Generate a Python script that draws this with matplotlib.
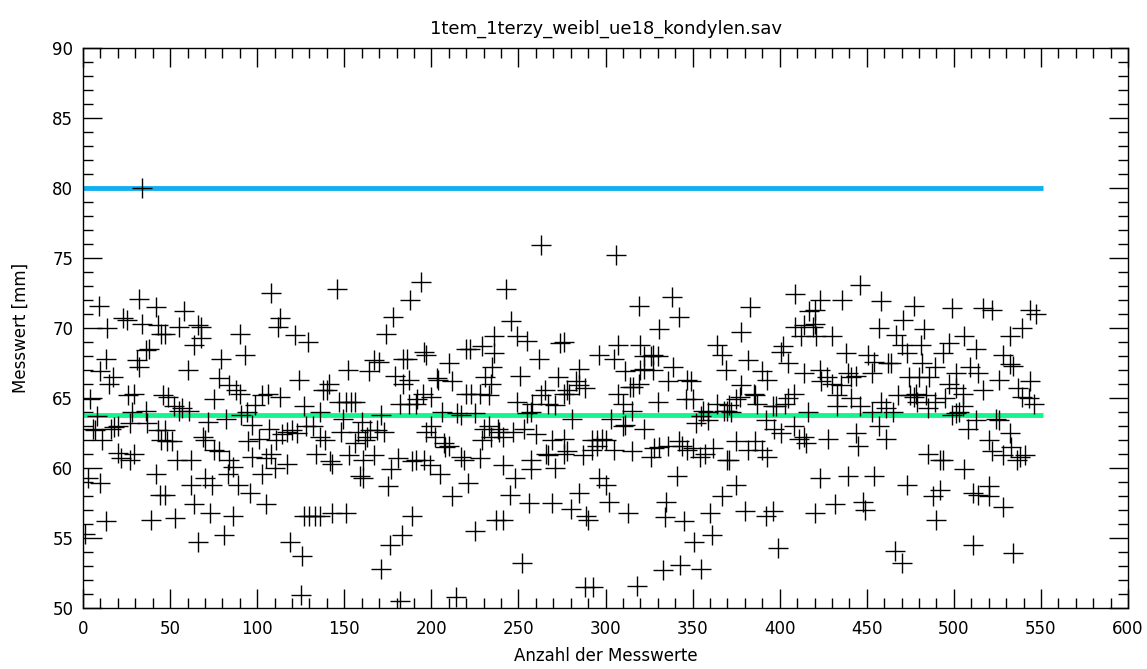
import matplotlib
matplotlib.use("Agg")
import matplotlib.pyplot as plt
from matplotlib.ticker import MultipleLocator

titel = "1tem_1terzy_weibl_ue18_kondylen.sav"
x_label = "Anzahl der Messwerte"
y_label = "Messwert [mm]"

grenzwert = 80.0
mittelwert = 63.8
anzahl_messwerte = 552

# (index, value) pairs
punkte = [
    (1, 55.3), (9, 71.6), (32, 72.1), (42, 71.5), (23, 70.7), (25, 70.6), (14, 70.0), (34, 70.3), (43, 70.2),
    (45, 69.6), (38, 68.5), (36, 68.4), (13, 67.8), (31, 67.7), (32, 67.2), (10, 66.9), (17, 66.5), (15, 66.0),
    (29, 65.3), (26, 65.2), (4, 64.9), (46, 65.2), (28, 64.0), (36, 64.1), (8, 63.7), (6, 62.8), (7, 62.7),
    (16, 62.8), (18, 62.9), (20, 63.0), (27, 63.2), (37, 63.2), (43, 62.7), (11, 62.0), (45, 62.0), (20, 61.1),
    (22, 60.7), (27, 60.6), (29, 61.0), (42, 59.6), (3, 59.3), (10, 58.9), (44, 58.1), (13, 56.2), (39, 56.3),
    (58, 71.2), (47, 69.6), (55, 70.1), (66, 70.2), (68, 70.1), (68, 69.3), (64, 68.8), (90, 69.6), (79, 67.8),
    (60, 67.0), (78, 66.4), (84, 65.9), (88, 65.6), (90, 65.3), (75, 64.9), (49, 65.1), (52, 64.4), (57, 64.3),
    (55, 64.1), (61, 64.1), (72, 63.3), (82, 63.5), (91, 63.8), (47, 62.7), (48, 61.9), (51, 61.9), (69, 62.2),
    (70, 62.0), (75, 61.3), (78, 61.2), (84, 60.6), (86, 60.1), (54, 60.6), (62, 60.6), (70, 59.3), (62, 58.8),
    (74, 58.8), (83, 59.6), (89, 58.8), (47, 58.1), (64, 57.4), (73, 56.8), (86, 56.6), (53, 56.4), (66, 54.7),
    (81, 55.2),
    (108, 72.5), (113, 70.7), (112, 70.1), (122, 69.5), (129, 69.0), (93, 68.1), (124, 66.3), (138, 65.6),
    (103, 65.2), (106, 65.3), (113, 65.1), (99, 64.5), (127, 64.4), (136, 64.0), (94, 64.0), (97, 63.1),
    (107, 62.8), (117, 62.6), (120, 62.7), (123, 62.5), (128, 63.0), (132, 63.0), (136, 62.2), (95, 61.9),
    (101, 62.1), (111, 62.0), (114, 62.4), (97, 60.8), (105, 60.7), (108, 61.0), (134, 61.0), (103, 59.6),
    (110, 60.0), (117, 60.3), (96, 58.2), (105, 57.4), (127, 56.6), (130, 56.6), (133, 56.6), (136, 56.6),
    (119, 54.7), (126, 53.7), (125, 50.9),
    (146, 72.8), (178, 70.8), (174, 69.6), (152, 67.0), (164, 66.9), (167, 67.7), (170, 67.6), (141, 66.0),
    (140, 65.6), (147, 64.7), (151, 64.7), (154, 64.7), (156, 64.7), (179, 66.6), (184, 67.8), (184, 66.0),
    (182, 64.6), (149, 63.5), (160, 63.3), (171, 63.8), (148, 62.6), (158, 62.6), (165, 62.7), (169, 62.7),
    (173, 62.6), (139, 62.0), (156, 61.8), (162, 62.0), (163, 62.2), (143, 60.3), (142, 60.5), (153, 60.9),
    (161, 60.6), (167, 60.9), (181, 60.7), (177, 59.9), (159, 59.4), (161, 59.3), (175, 58.7), (143, 56.8),
    (151, 56.8), (183, 55.2), (176, 54.5), (171, 52.8), (182, 50.5),
    (194, 73.3), (188, 72.0), (196, 68.3), (197, 68.1), (186, 67.8), (210, 67.5), (220, 68.5), (222, 68.5),
    (229, 68.7), (187, 66.3), (203, 66.4), (204, 66.3), (212, 66.2), (220, 65.3), (223, 65.3), (228, 65.3),
    (231, 66.5), (195, 65.3), (200, 65.1), (192, 64.9), (191, 64.6), (187, 64.6), (206, 64.0), (215, 63.9),
    (217, 63.8), (225, 63.9), (200, 63.0), (230, 62.8), (197, 62.6), (202, 62.2), (207, 61.8), (208, 61.5),
    (210, 61.6), (217, 60.8), (219, 60.6), (228, 60.7), (229, 62.0), (191, 60.6), (189, 60.5), (196, 60.6),
    (199, 60.2), (205, 59.6), (221, 58.9), (212, 58.0), (189, 56.6), (225, 55.5), (214, 50.8),
    (263, 75.9), (243, 72.8), (246, 70.5), (236, 69.4), (249, 69.4), (255, 69.1), (274, 68.9), (276, 69.0),
    (236, 68.2), (262, 67.8), (235, 67.2), (251, 66.6), (273, 66.5), (234, 66.0), (233, 65.2), (265, 65.6),
    (263, 65.2), (276, 65.3), (278, 65.6), (249, 64.7), (258, 64.6), (267, 64.6), (271, 64.5), (257, 64.0),
    (255, 63.9), (253, 62.8), (233, 63.0), (238, 62.8), (239, 62.6), (247, 62.6), (234, 62.2), (241, 62.2),
    (260, 62.4), (269, 62.0), (276, 62.1), (266, 61.0), (267, 60.9), (276, 61.0), (241, 60.2), (257, 60.6),
    (257, 59.9), (271, 60.0), (248, 59.3), (245, 58.1), (256, 57.5), (269, 57.5), (237, 56.3), (241, 56.3),
    (252, 53.2),
    (306, 75.2), (319, 71.6), (307, 68.8), (296, 68.1), (305, 67.8), (320, 68.8), (322, 68.0), (285, 67.1),
    (311, 66.9), (320, 67.0), (322, 67.1), (283, 66.2), (285, 65.9), (288, 65.7), (279, 65.3), (314, 65.8),
    (316, 65.8), (319, 66.0), (307, 65.3), (310, 64.6), (315, 64.1), (281, 63.5), (303, 63.5), (311, 63.1),
    (310, 63.0), (322, 62.8), (292, 62.0), (295, 62.0), (298, 62.1), (300, 62.0), (295, 61.6), (278, 61.2),
    (287, 60.9), (292, 61.3), (305, 61.3), (315, 61.2), (296, 59.3), (300, 58.8), (285, 58.2), (302, 57.6),
    (280, 57.1), (289, 56.6), (290, 56.3), (313, 56.8), (288, 51.5), (293, 51.5), (318, 51.6),
    (338, 72.2), (342, 70.8), (331, 69.9), (364, 68.8), (367, 68.1), (369, 67.0), (326, 68.0), (327, 68.1),
    (330, 68.0), (327, 67.0), (339, 67.2), (336, 66.2), (347, 66.3), (349, 66.2), (330, 64.7), (346, 64.9),
    (350, 64.9), (356, 64.1), (359, 64.0), (364, 64.6), (368, 64.1), (370, 64.1), (352, 63.2), (355, 63.7),
    (359, 63.4), (326, 60.8), (328, 61.4), (331, 61.5), (336, 61.6), (342, 61.9), (344, 61.6), (347, 61.3),
    (350, 61.4), (354, 60.8), (357, 61.0), (362, 61.4), (370, 60.6), (341, 59.4), (335, 57.6), (367, 58.0),
    (334, 56.5), (345, 56.2), (360, 56.8), (351, 54.7), (361, 55.2), (333, 52.7), (343, 53.1), (355, 52.8),
    (409, 72.4), (383, 71.5), (417, 71.2), (378, 69.7), (409, 70.1), (414, 70.2), (412, 69.4), (402, 68.7),
    (401, 68.3), (382, 67.7), (405, 67.5), (390, 66.9), (393, 66.3), (414, 66.8), (378, 65.9), (377, 65.1),
    (375, 64.9), (385, 65.3), (386, 65.2), (408, 65.3), (405, 65.0), (371, 64.5), (372, 64.0), (387, 64.6),
    (396, 64.4), (398, 64.4), (403, 64.6), (416, 64.0), (392, 63.4), (397, 62.8), (401, 62.5), (408, 63.0),
    (411, 62.1), (414, 62.2), (415, 61.8), (375, 61.9), (386, 61.9), (382, 61.3), (390, 61.3), (393, 60.8),
    (371, 60.6), (375, 58.8), (380, 56.9), (392, 56.6), (396, 56.9), (399, 54.3),
    (446, 73.1), (423, 72.0), (436, 72.0), (458, 71.9), (420, 71.3), (420, 70.3), (419, 70.1), (457, 70.0),
    (421, 69.4), (430, 69.4), (438, 68.2), (451, 68.1), (454, 67.6), (462, 67.5), (423, 67.0), (427, 66.5),
    (424, 66.2), (430, 66.0), (435, 65.9), (439, 66.8), (441, 66.5), (444, 66.6), (453, 66.8), (433, 65.2),
    (441, 65.0), (433, 64.4), (446, 64.4), (453, 64.0), (458, 64.7), (461, 64.3), (457, 63.0), (444, 62.5),
    (445, 61.6), (428, 62.1), (461, 62.1), (423, 59.3), (439, 59.4), (454, 59.4), (420, 56.8), (432, 57.4),
    (448, 57.6), (449, 57.0),
    (477, 71.6), (499, 71.4), (471, 70.6), (483, 69.9), (506, 69.4), (467, 69.5), (470, 68.8), (473, 68.2),
    (481, 68.8), (497, 68.9), (494, 68.2), (464, 67.5), (482, 67.5), (489, 67.2), (509, 67.2), (501, 66.8),
    (474, 66.5), (480, 66.5), (486, 66.5), (497, 66.0), (501, 65.7), (505, 65.3), (468, 65.2), (475, 65.2),
    (477, 65.1), (478, 65.3), (484, 65.2), (489, 64.7), (495, 65.0), (479, 64.7), (485, 64.3), (505, 64.4),
    (503, 64.0), (501, 63.9), (465, 64.0), (499, 63.8), (508, 62.8), (485, 61.0), (492, 60.6), (494, 60.6),
    (506, 59.9), (473, 58.8), (492, 58.4), (488, 58.0), (490, 56.3), (466, 54.1), (470, 53.2),
    (517, 71.4), (522, 71.3), (544, 71.3), (547, 71.0), (539, 70.0), (532, 69.4), (513, 68.5), (528, 68.1),
    (532, 67.4), (534, 67.3), (514, 66.8), (526, 66.3), (544, 66.2), (517, 65.6), (537, 65.7), (539, 65.1),
    (543, 65.0), (546, 64.6), (513, 63.4), (524, 63.5), (526, 63.4), (532, 62.5), (520, 62.0), (533, 61.5),
    (541, 60.9), (538, 60.8), (522, 61.2), (528, 60.9), (536, 60.6), (511, 58.2), (514, 58.1), (520, 58.7),
    (520, 58.0), (528, 57.2), (511, 54.5), (534, 53.9),
    (34, 80.0),
]
index = [p[0] for p in punkte]
messwerte = [p[1] for p in punkte]

fig = plt.figure(figsize=(11.47, 6.69), dpi=100)
ax = fig.add_axes([83 / 1147, 1 - 608 / 669, (1128 - 83) / 1147, (608 - 48) / 669])

ax.hlines(grenzwert, 0, anzahl_messwerte - 1, color="#12AEF0", lw=3.5, zorder=2)
ax.hlines(mittelwert, 0, anzahl_messwerte - 1, color="#14F58E", lw=3.5, zorder=2)
ax.plot(index, messwerte, ls="none", marker="+", ms=14, mew=1.0, color="black", zorder=3)

ax.set_xlim(0, 600)
ax.set_ylim(50, 90)
ax.xaxis.set_major_locator(MultipleLocator(50))
ax.xaxis.set_minor_locator(MultipleLocator(10))
ax.yaxis.set_major_locator(MultipleLocator(5))
ax.yaxis.set_minor_locator(MultipleLocator(1))
ax.tick_params(which="both", direction="in", top=True, right=True, labelsize=12, width=1)
ax.tick_params(which="major", length=14)
ax.tick_params(which="minor", length=7)
ax.tick_params(axis="x", which="major", pad=9)
ax.tick_params(axis="y", which="major", pad=7)
for s in ax.spines.values():
    s.set_linewidth(1)

ax.set_title(titel, fontsize=13, pad=10)
ax.set_xlabel(x_label, fontsize=12, labelpad=6)
ax.set_ylabel(y_label, fontsize=12, labelpad=16)

fig.savefig("out.png", dpi=100)
